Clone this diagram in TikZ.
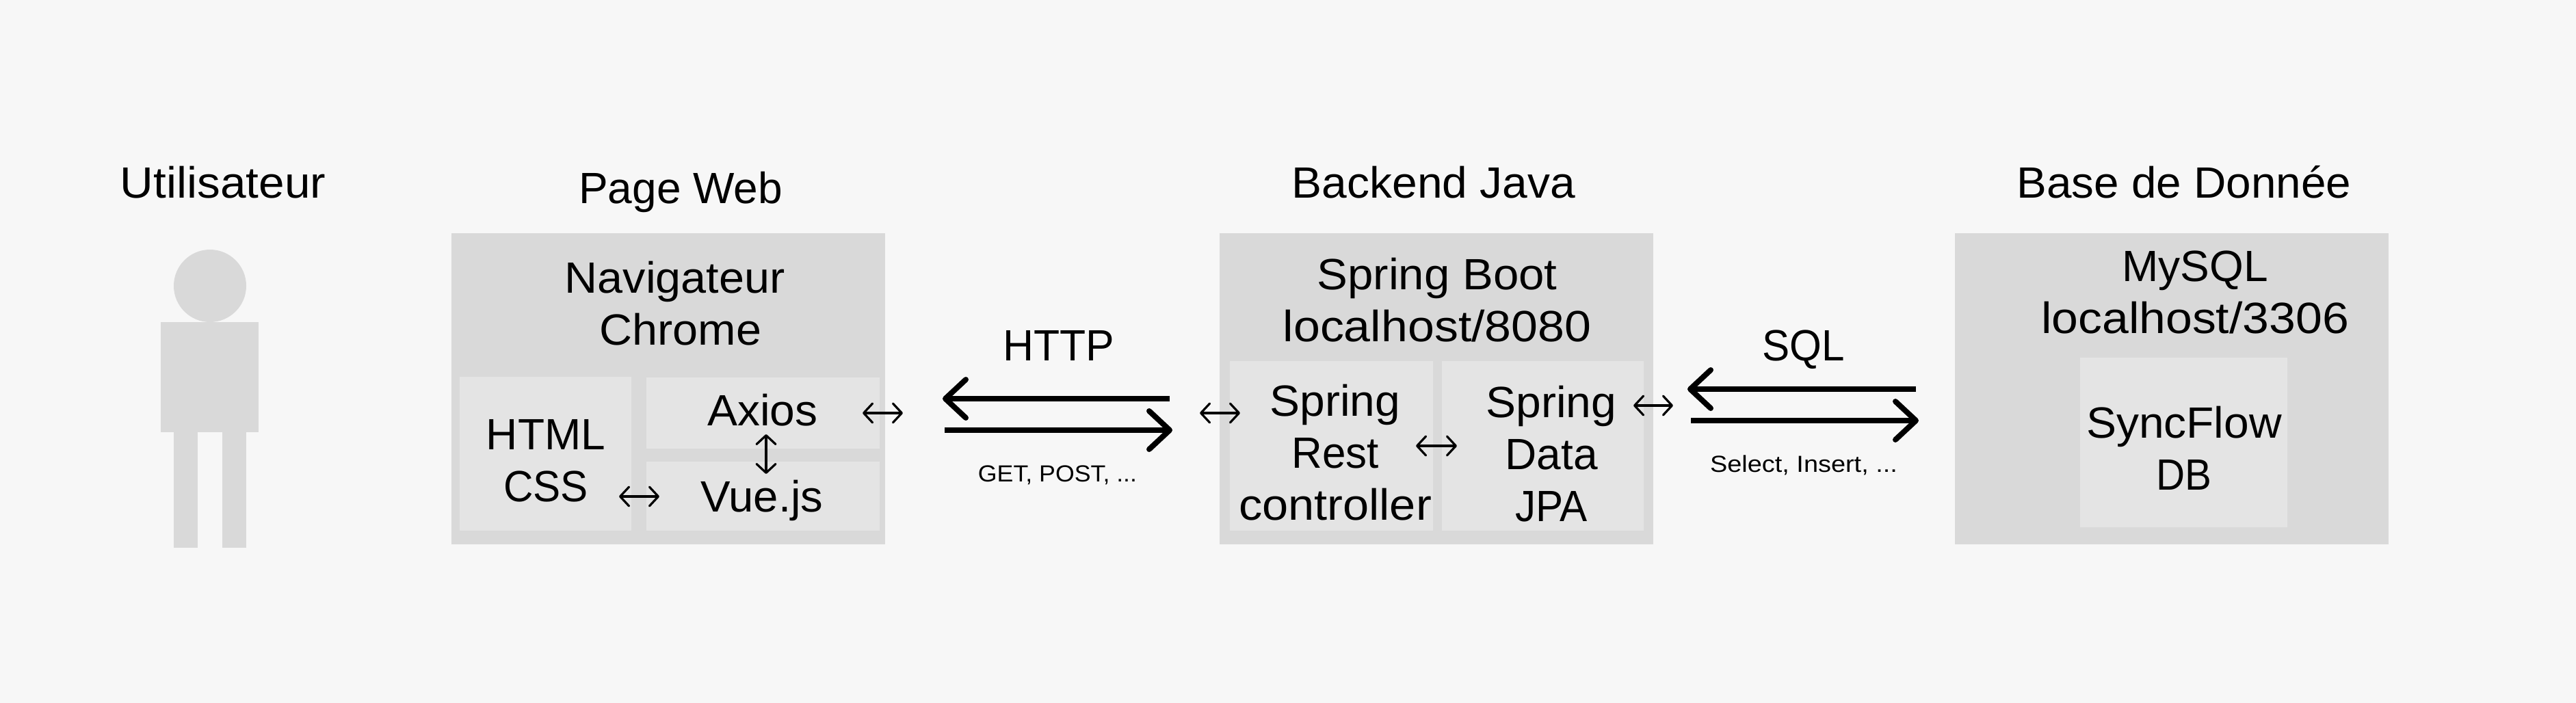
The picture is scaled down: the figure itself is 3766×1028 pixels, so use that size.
\documentclass[tikz,border=0pt]{standalone}
\usepackage{fontspec}
\setmainfont{Liberation Sans}
\usetikzlibrary{arrows.meta}
\definecolor{bgcolor}{HTML}{F7F7F7}
\definecolor{outergray}{HTML}{D9D9D9}
\definecolor{innergray}{HTML}{E4E4E4}
\def\u{0.5pt}
\newcommand{\widen}[2]{\scalebox{#1}[1]{#2}}
\tikzset{
	boxw/.style={minimum width=#1*\u},
	boxh/.style={minimum height=#1*\u},
	outerbox/.style={fill=outergray,inner sep=0pt,boxw=634,boxh=455},
	innerbox/.style={fill=innergray,inner sep=0pt},
	person/.style={fill=outergray,inner sep=0pt},
	lab/.style={font=\fontsize{32}{38}\selectfont,align=center,anchor=base,inner sep=0pt},
	smalllab/.style={font=\fontsize{17}{20}\selectfont,anchor=base,inner sep=0pt},
	sx/.style={xscale=#1,transform shape},
	bigarrow/.style={line width=4pt,-{Straight Barb[length=15pt,width=28pt,round]}},
	tinyarrow/.style={line width=1.6pt,{Straight Barb[length=6.5pt,width=14pt,round]}-{Straight Barb[length=6.5pt,width=14pt,round]}}
}
\begin{document}
\begin{tikzpicture}[x=\u,y=-\u]
	\fill[bgcolor] (0,0) rectangle (3766,1028);
	\useasboundingbox (0,0) rectangle (3766,1028);
	% the person
	\node[person,circle,minimum size=106*\u] (head) at (307,418) {};
	\node[person,boxw=143,boxh=161] (body) at (306.5,551.5) {};
	\foreach \leg/\cx in {legl/271.5,legr/342.5}
	{
		\node[person,boxw=35,boxh=169] (\leg) at (\cx,716.5) {};
	}
	% the three blocks
	\foreach \block/\cx in {page/977,backend/2100,base/3175}
	{
		\node[outerbox] (\block) at (\cx,568.5) {};
	}
	\node[innerbox,boxw=251,boxh=225] (html) at (797.5,663.5) {};
	\node[innerbox,boxw=341,boxh=104] (axios) at (1115.5,604) {};
	\node[innerbox,boxw=341,boxh=101] (vue) at (1115.5,725.5) {};
	\node[innerbox,boxw=297,boxh=248] (rest) at (1946.5,652) {};
	\node[innerbox,boxw=295,boxh=248] (data) at (2255.5,652) {};
	\node[innerbox,boxw=303,boxh=248] (syncflow) at (3192.5,647) {};
	% titles
	\node[lab,sx=1.055] (tuser) at (326,289) {Utilisateur};
	\node[lab] (tpage) at (995,297) {Page Web};
	\node[lab,sx=1.03] (tbackend) at (2096,289) {Backend Java};
	\node[lab,sx=1.025] (tbase) at (3193,289) {Base de Donnée};
	% text in the boxes, y is the last line
	\node[lab,sx=1.04] (tnav) at (995,504) {Navigateur\kern8pt\\Chrome};
	\node[lab] (thtml) at (798,733) {HTML\\\widen{.94}{CSS}};
	\node[lab,sx=1.03] (taxios) at (1115,622) {Axios};
	\node[lab,sx=1.02] (tvue) at (1114,748) {Vue.js};
	\node[lab,sx=1.05] (tboot) at (2101,499) {Spring Boot\\\widen{1.04}{localhost/8080}};
	\node[lab,sx=1.03] (trest) at (1952,760) {Spring\\\widen{.94}{Rest}\\\widen{1.04}{controller}};
	\node[lab] (tdata) at (2268,762) {\widen{1.03}{Spring}\\Data\\\widen{.94}{JPA}};
	\node[lab] (tmysql) at (3209,487) {MySQL\\\widen{1.09}{localhost/3306}};
	\node[lab] (tsync) at (3193,716) {\widen{1.03}{SyncFlow}\\\widen{.91}{DB}};
	% protocols
	\node[lab,sx=.975] (thttp) at (1548,527) {HTTP};
	\node[lab,sx=.94] (tsql) at (2637,527) {SQL};
	\node[smalllab,sx=1.05] (tget) at (1546,704.5) {GET, POST, ...};
	\node[smalllab,sx=1.115] (tselect) at (2637,690) {Select, Insert, ...};
	% thick arrows
	\coordinate (httpa) at (1710,583);
	\coordinate (httpb) at (1378,583);
	\coordinate (httpc) at (1381,629);
	\coordinate (httpd) at (1714,629);
	\coordinate (sqla) at (2801,569);
	\coordinate (sqlb) at (2467,569);
	\coordinate (sqlc) at (2472,615);
	\coordinate (sqld) at (2805,615);
	\draw[bigarrow] (httpa) -- (httpb);
	\draw[bigarrow] (httpc) -- (httpd);
	\draw[bigarrow] (sqla) -- (sqlb);
	\draw[bigarrow] (sqlc) -- (sqld);
	% tiny arrows
	\coordinate (axl) at (1261,604);
	\coordinate (axr) at (1320,604);
	\coordinate (vut) at (1120,635);
	\coordinate (vub) at (1120,693);
	\coordinate (csl) at (905,726);
	\coordinate (csr) at (964,726);
	\coordinate (bal) at (1754,604);
	\coordinate (bar) at (1813,604);
	\coordinate (rdl) at (2070,652);
	\coordinate (rdr) at (2130,652);
	\coordinate (dbl) at (2388,593);
	\coordinate (dbr) at (2446,593);
	\draw[tinyarrow] (axl) -- (axr);
	\draw[tinyarrow] (vut) -- (vub);
	\draw[tinyarrow] (csl) -- (csr);
	\draw[tinyarrow] (bal) -- (bar);
	\draw[tinyarrow] (rdl) -- (rdr);
	\draw[tinyarrow] (dbl) -- (dbr);
\end{tikzpicture}
\end{document}
